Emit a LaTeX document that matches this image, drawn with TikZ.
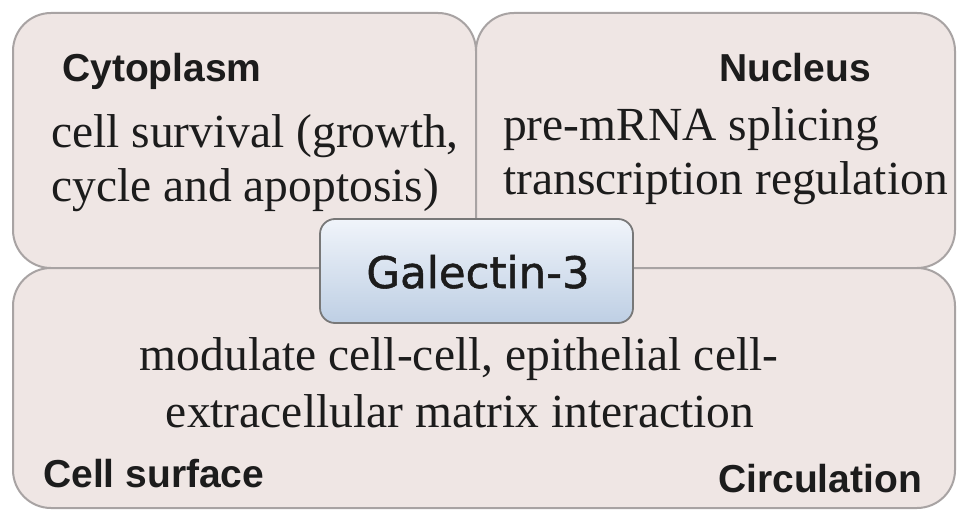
\documentclass[tikz,border=0pt]{standalone}
\usepackage{fontspec}
\setmainfont{Liberation Serif}
\setsansfont{Liberation Sans}
\newfontfamily\galfont[FakeBold=1.2]{DejaVu Sans}
\definecolor{regfill}{RGB}{239,230,228}
\definecolor{regline}{RGB}{168,163,163}
\definecolor{txt}{RGB}{28,28,28}
\definecolor{gtop}{RGB}{240,244,250}
\definecolor{gbot}{RGB}{190,207,228}
\definecolor{gline}{RGB}{120,120,120}
\tikzset{
  region/.style={draw=regline, line width=2pt, fill=regfill, rounded corners=38pt, inner sep=0pt},
  centerbox/.style={draw=gline, line width=1.8pt, top color=gtop, bottom color=gbot, rounded corners=15pt, inner sep=0pt},
  title/.style={font=\fontsize{39}{39}\selectfont\sffamily\bfseries, text=txt, inner sep=0pt, anchor=base west},
  body/.style={font=\fontsize{47.5}{47.5}\selectfont\rmfamily, text=txt, inner sep=0pt, anchor=base west},
}
\begin{document}
\begin{tikzpicture}[x=1pt,y=-1pt]
\useasboundingbox[fill=white] (0,0) rectangle (969,524);
\node[region, minimum width=463pt, minimum height=255pt] (cyto) at (244.5,140.5) {};
\node[region, minimum width=479pt, minimum height=255pt] (nuc) at (715.5,140.5) {};
\node[region, minimum width=942pt, minimum height=240pt] (surf) at (484,388) {};
\node[centerbox, minimum width=313pt, minimum height=104pt] (gal) at (476.5,271) {};
\node[font=\fontsize{43.5}{43.5}\selectfont\galfont, text=txt, inner sep=0pt, anchor=base] (galt) at (478,288) {Galectin-3};
\node[title] (tcyto) at (62,82) {Cytoplasm};
\node[body] (c1) at (51,147) {cell survival (growth,};
\node[body] (c2) at (51,201) {cycle and apoptosis)};
\node[title] (tnuc) at (719,82) {Nucleus};
\node[body] (n1) at (503,140) {pre-mRNA splicing};
\node[body] (n2) at (503,194) {transcription regulation};
\node[body, anchor=base] (s1) at (459,370) {modulate cell-cell, epithelial cell-};
\node[body, anchor=base] (s2) at (460,427) {extracellular matrix interaction};
\node[title] (tsurf) at (43,487) {Cell surface};
\node[title] (tcirc) at (718,492) {Circulation};
\end{tikzpicture}
\end{document}
